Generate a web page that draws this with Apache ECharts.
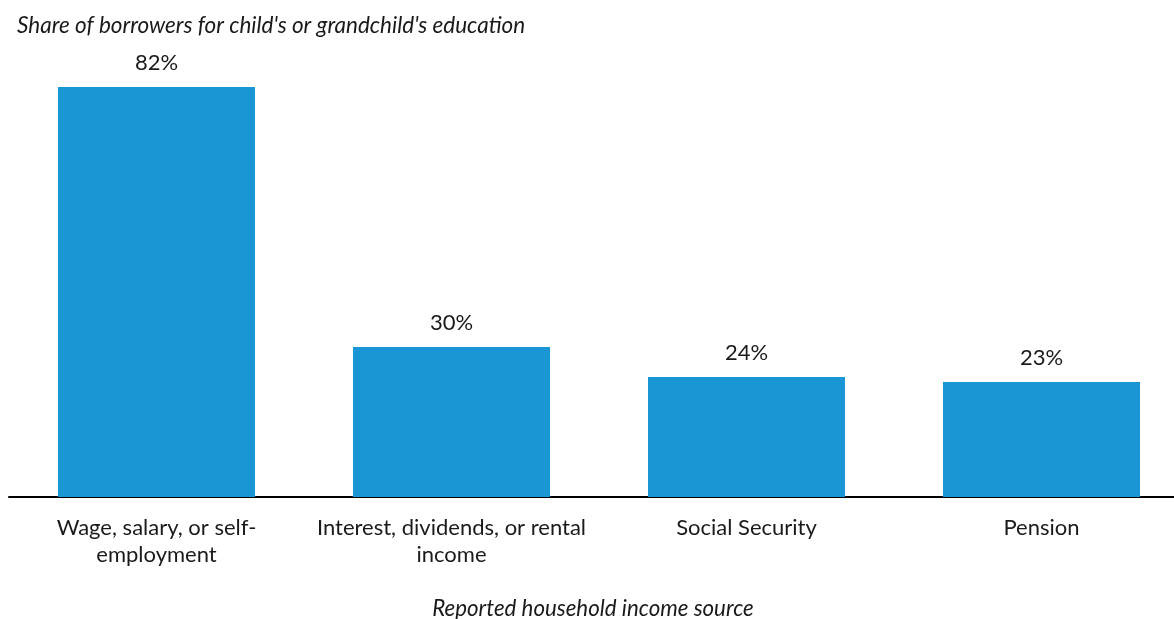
<!DOCTYPE html>
<html lang="en">
<head>
  <meta charset="UTF-8">
  <title>Income source of borrowers</title>
  <style>
    body { margin: 0; background: #fff; }
    #chart { width: 1174px; height: 619px; }
  </style>
  <script src="https://cdn.jsdelivr.net/npm/echarts@6/dist/echarts.min.js"></script>
</head>
<body>
  <div id="chart"></div>
  <script>
    // categories and values
    const categories = [
      'Wage, salary, or self-\nemployment',
      'Interest, dividends, or rental\nincome',
      'Social Security',
      'Pension'
    ];
    const shares = [82, 30, 24, 23];

    const chart = echarts.init(document.getElementById('chart'));
    chart.setOption({
      animation: false,
      textStyle: { fontFamily: 'Lato' },
      title: {
        text: "Share of borrowers for child's or grandchild's education",
        left: 17, top: 14, padding: 0,
        textStyle: { fontFamily: 'Lato', fontStyle: 'italic', fontWeight: 'normal', fontSize: 22.5, color: '#1a1a1a' }
      },
      grid: { left: 9, right: -15, top: 87, bottom: 122, outerBoundsMode: 'none', containLabel: false },
      xAxis: {
        type: 'category',
        data: categories,
        name: 'Reported household income source',
        nameLocation: 'middle',
        nameGap: 101,
        nameTextStyle: { fontFamily: 'Lato', fontStyle: 'italic', fontSize: 22.3, color: '#1a1a1a', padding: [0, 12, 0, 0] },
        axisLine: { lineStyle: { color: '#000', width: 2 } },
        axisTick: { show: false },
        axisLabel: { fontFamily: 'Lato', fontSize: 22, color: '#1a1a1a', margin: 17, lineHeight: 27, interval: 0 }
      },
      yAxis: { type: 'value', min: 0, max: 82, show: false },
      series: [{
        type: 'bar',
        data: shares,
        barWidth: 197,
        itemStyle: { color: '#1996d3' },
        label: {
          show: true, position: 'top', distance: 13,
          formatter: function (p) { return p.value + '%'; },
          fontFamily: 'Lato', fontSize: 22, color: '#1a1a1a'
        }
      }]
    });
  </script>
</body>
</html>
